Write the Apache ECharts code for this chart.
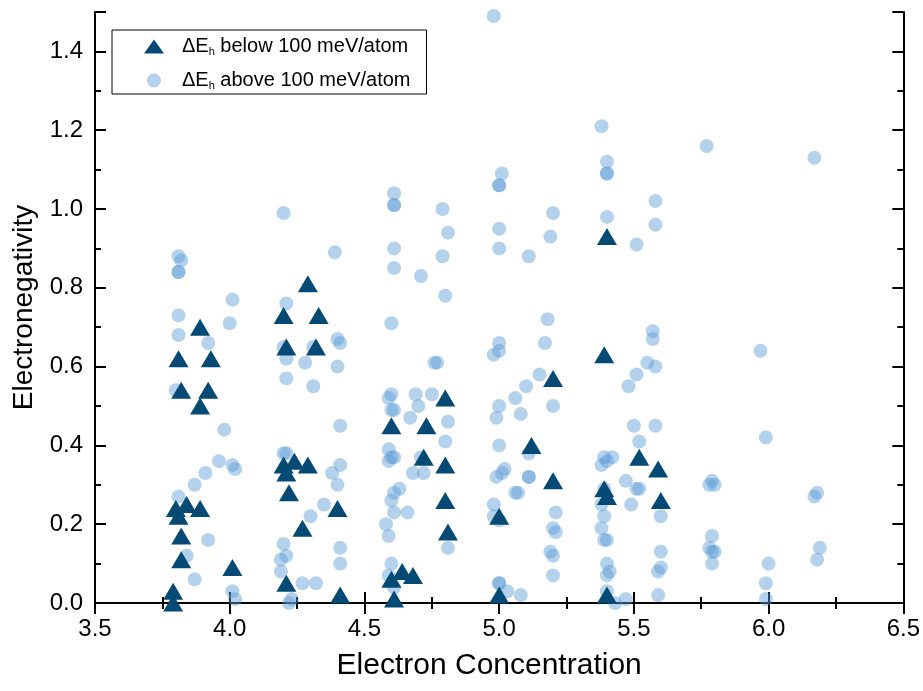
<!DOCTYPE html>
<html>
<head>
<meta charset="utf-8">
<script src="https://cdn.jsdelivr.net/npm/echarts@6/dist/echarts.min.js"></script>
<style>
    html, body { margin: 0; padding: 0; background: #fff; }
    #chart { width: 923px; height: 691px; }
</style>
</head>
<body>
<div id="chart"></div>
<script>
// x axis ticks and y axis ticks
const xTicks = [3.5, 4.0, 4.5, 5.0, 5.5, 6.0, 6.5]
const yTicks = [0.0, 0.2, 0.4, 0.6, 0.8, 1.0, 1.2, 1.4]

// ΔEh below 100 meV/atom  [electron concentration, electronegativity]
const belowPts = [
    [3.89, 0.70], [3.81, 0.62], [3.93, 0.62], [3.82, 0.54], [3.92, 0.54], [3.89, 0.50],
    [4.20, 0.73], [4.33, 0.73], [4.21, 0.65], [4.32, 0.65], [4.29, 0.81],
    [4.60, 0.45], [4.73, 0.45], [4.72, 0.37],
    [4.20, 0.35], [4.24, 0.36], [4.29, 0.35], [4.21, 0.33], [4.22, 0.28],
    [3.80, 0.24], [3.84, 0.25], [3.89, 0.24], [3.81, 0.22], [3.82, 0.17], [3.82, 0.11],
    [4.01, 0.09], [3.79, 0.03], [3.79, 0.00], [4.27, 0.19], [4.40, 0.24], [4.21, 0.05], [4.41, 0.02],
    [4.60, 0.06], [4.64, 0.08], [4.68, 0.07], [4.61, 0.01],
    [4.80, 0.52], [4.80, 0.35], [4.80, 0.26], [4.81, 0.18],
    [5.00, 0.22], [5.00, 0.02], [5.12, 0.40], [5.20, 0.31], [5.20, 0.57],
    [5.39, 0.63], [5.39, 0.29], [5.40, 0.27], [5.40, 0.02], [5.40, 0.93],
    [5.52, 0.37], [5.59, 0.34], [5.60, 0.26]
]

// ΔEh above 100 meV/atom
const abovePts = [
    [4.20, 0.99], [4.61, 1.04], [4.61, 1.01], [4.61, 1.01], [4.61, 0.90], [4.61, 0.85], [4.71, 0.83],
    [4.39, 0.89], [3.81, 0.88], [3.82, 0.87], [3.81, 0.84], [3.81, 0.84], [4.01, 0.77], [4.21, 0.76],
    [3.81, 0.73], [3.81, 0.68], [3.92, 0.66], [4.00, 0.71], [4.20, 0.65], [4.21, 0.62], [4.21, 0.57],
    [4.28, 0.61], [4.31, 0.55], [4.31, 0.65], [4.40, 0.67], [4.41, 0.66], [4.40, 0.60], [4.60, 0.71],
    [4.76, 0.61], [3.80, 0.54], [3.98, 0.44], [4.41, 0.45], [4.59, 0.52], [4.60, 0.53], [4.60, 0.49],
    [4.61, 0.49], [4.69, 0.53], [4.70, 0.50], [4.67, 0.47], [4.75, 0.53],
    [3.96, 0.36], [4.01, 0.35], [4.02, 0.34], [3.91, 0.33], [3.87, 0.30], [3.81, 0.27], [3.92, 0.16],
    [3.84, 0.12], [3.87, 0.06], [4.01, 0.03], [4.02, 0.01],
    [4.20, 0.38], [4.21, 0.38], [4.38, 0.33], [4.41, 0.35], [4.40, 0.30], [4.35, 0.25], [4.30, 0.22],
    [4.20, 0.15], [4.19, 0.11], [4.21, 0.12], [4.19, 0.08], [4.27, 0.05], [4.32, 0.05], [4.41, 0.14],
    [4.41, 0.10], [4.23, 0.01], [4.22, 0.00],
    [4.59, 0.39], [4.60, 0.37], [4.59, 0.36], [4.61, 0.37], [4.63, 0.29], [4.61, 0.28], [4.60, 0.26],
    [4.61, 0.23], [4.66, 0.23], [4.58, 0.20], [4.59, 0.17], [4.68, 0.33], [4.72, 0.33], [4.60, 0.10],
    [4.59, 0.07], [4.61, 0.04],
    [4.98, 1.49], [5.38, 1.21], [5.40, 1.12], [5.40, 1.09], [5.40, 1.09], [5.40, 0.98], [5.51, 0.91],
    [5.01, 1.09], [5.00, 1.06], [5.00, 1.06], [5.00, 0.95], [5.00, 0.90], [5.11, 0.88], [5.19, 0.93],
    [5.20, 0.99], [4.79, 1.00], [4.81, 0.94], [4.79, 0.88], [4.80, 0.78], [5.58, 1.02], [5.58, 0.96],
    [5.77, 1.16], [6.17, 1.13],
    [4.77, 0.61], [4.81, 0.46], [4.80, 0.41], [4.71, 0.37], [4.81, 0.14],
    [5.00, 0.66], [5.00, 0.64], [4.98, 0.63], [5.18, 0.72], [5.17, 0.66], [5.15, 0.58], [5.10, 0.55],
    [5.06, 0.52], [5.00, 0.50], [4.99, 0.47], [5.08, 0.48], [5.20, 0.50], [5.00, 0.40], [5.11, 0.38],
    [5.02, 0.34], [5.01, 0.33], [4.99, 0.32], [5.11, 0.32], [5.11, 0.32], [5.06, 0.28], [5.07, 0.28],
    [4.98, 0.25], [4.98, 0.22], [5.00, 0.21], [5.21, 0.23], [5.20, 0.19], [5.21, 0.18], [5.19, 0.13],
    [5.20, 0.12], [5.20, 0.07], [5.00, 0.05], [5.00, 0.05], [5.03, 0.03], [5.08, 0.02],
    [5.57, 0.69], [5.57, 0.67], [5.55, 0.61], [5.51, 0.58], [5.48, 0.55], [5.58, 0.60], [5.50, 0.45],
    [5.58, 0.45], [5.52, 0.41], [5.39, 0.37], [5.40, 0.36], [5.42, 0.37], [5.38, 0.35], [5.47, 0.31],
    [5.51, 0.29], [5.52, 0.29], [5.49, 0.25], [5.38, 0.25], [5.39, 0.22], [5.38, 0.19], [5.39, 0.16],
    [5.40, 0.16], [5.40, 0.10], [5.40, 0.07], [5.41, 0.08], [5.40, 0.03], [5.43, 0.00], [5.47, 0.01],
    [5.39, 0.29],
    [5.97, 0.64], [5.99, 0.42], [5.60, 0.22], [5.60, 0.13], [5.60, 0.09], [5.59, 0.08], [5.59, 0.02],
    [5.79, 0.31], [5.80, 0.30], [5.78, 0.30], [5.79, 0.17], [5.78, 0.14], [5.80, 0.13], [5.79, 0.13],
    [5.79, 0.10], [6.18, 0.28], [6.17, 0.27], [6.19, 0.14], [6.18, 0.11], [6.00, 0.10], [5.99, 0.05],
    [5.99, 0.01]
]

const BELOW = 'below'
const ABOVE = 'above'
const FONT = 'Liberation Sans, Arial, sans-serif'

const chart = echarts.init(document.getElementById('chart'))

const axisLine = { show: true, lineStyle: { color: '#000', width: 2 } }
const tick = { show: true, inside: true, length: 11, lineStyle: { color: '#000', width: 2 } }
const minor = { show: true, splitNumber: 2, length: 6, lineStyle: { color: '#000', width: 2 } }

const xBase = {
    type: 'value',
    min: xTicks[0],
    max: xTicks[xTicks.length - 1],
    interval: 0.5,
    axisLine: axisLine,
    axisTick: tick,
    minorTick: minor,
    splitLine: { show: false },
}
const yBase = {
    type: 'value',
    min: 0,
    max: 1.5,
    interval: 0.2,
    axisLine: axisLine,
    axisTick: tick,
    minorTick: minor,
    splitLine: { show: false },
}

const option = {
    animation: false,
    backgroundColor: '#fff',
    grid: { left: 95, right: 17, top: 12, bottom: 88 },
    legend: {
        data: [BELOW, ABOVE],
        orient: 'vertical',
        left: 112,
        top: 30,
        padding: [6, 16, 3, 32],
        itemGap: 13,
        itemWidth: 20,
        itemHeight: 14,
        borderColor: '#000',
        borderWidth: 1,
        borderRadius: 0,
        textStyle: {
            fontFamily: FONT,
            fontSize: 20,
            color: '#000',
            rich: {
                g: { width: 13 },
                a: { fontFamily: FONT, fontSize: 20, lineHeight: 22, color: '#000' },
                s: { fontFamily: FONT, fontSize: 11, lineHeight: 12, color: '#000', padding: [10, 0, 0, 0] },
            },
        },
        formatter: (name) => name === BELOW
            ? '{g|}{a|ΔE}{s|h}{a| below 100 meV/atom}'
            : '{g|}{a|ΔE}{s|h}{a| above 100 meV/atom}',
    },
    xAxis: [
        Object.assign({}, xBase, {
            position: 'bottom',
            name: 'Electron Concentration',
            nameLocation: 'middle',
            nameGap: 48,
            nameTextStyle: { fontFamily: FONT, fontSize: 30, color: '#000', padding: [0, 20, 0, 0] },
            axisLabel: {
                margin: 14,
                fontFamily: FONT,
                fontSize: 24,
                color: '#000',
                formatter: (v) => v.toFixed(1),
            },
        }),
        Object.assign({}, xBase, { position: 'top', axisLabel: { show: false } }),
    ],
    yAxis: [
        Object.assign({}, yBase, {
            position: 'left',
            name: 'Electronegativity',
            nameLocation: 'middle',
            nameGap: 57,
            nameTextStyle: { fontFamily: FONT, fontSize: 28, color: '#000' },
            axisLabel: {
                margin: 12,
                showMaxLabel: false,
                fontFamily: FONT,
                fontSize: 24,
                color: '#000',
                formatter: (v) => yTicks.includes(Math.round(v * 10) / 10) ? v.toFixed(1) : '',
            },
        }),
        Object.assign({}, yBase, { position: 'right', axisLabel: { show: false } }),
    ],
    series: [
        {
            name: ABOVE,
            type: 'scatter',
            symbol: 'circle',
            symbolSize: 14,
            itemStyle: { color: '#5b9bd5', opacity: 0.45 },
            data: abovePts,
            z: 2,
        },
        {
            name: BELOW,
            type: 'scatter',
            symbol: 'triangle',
            symbolSize: [20, 17],
            itemStyle: { color: '#044a75', opacity: 1 },
            data: belowPts,
            z: 3,
        },
    ],
}

chart.setOption(option)
</script>
</body>
</html>
